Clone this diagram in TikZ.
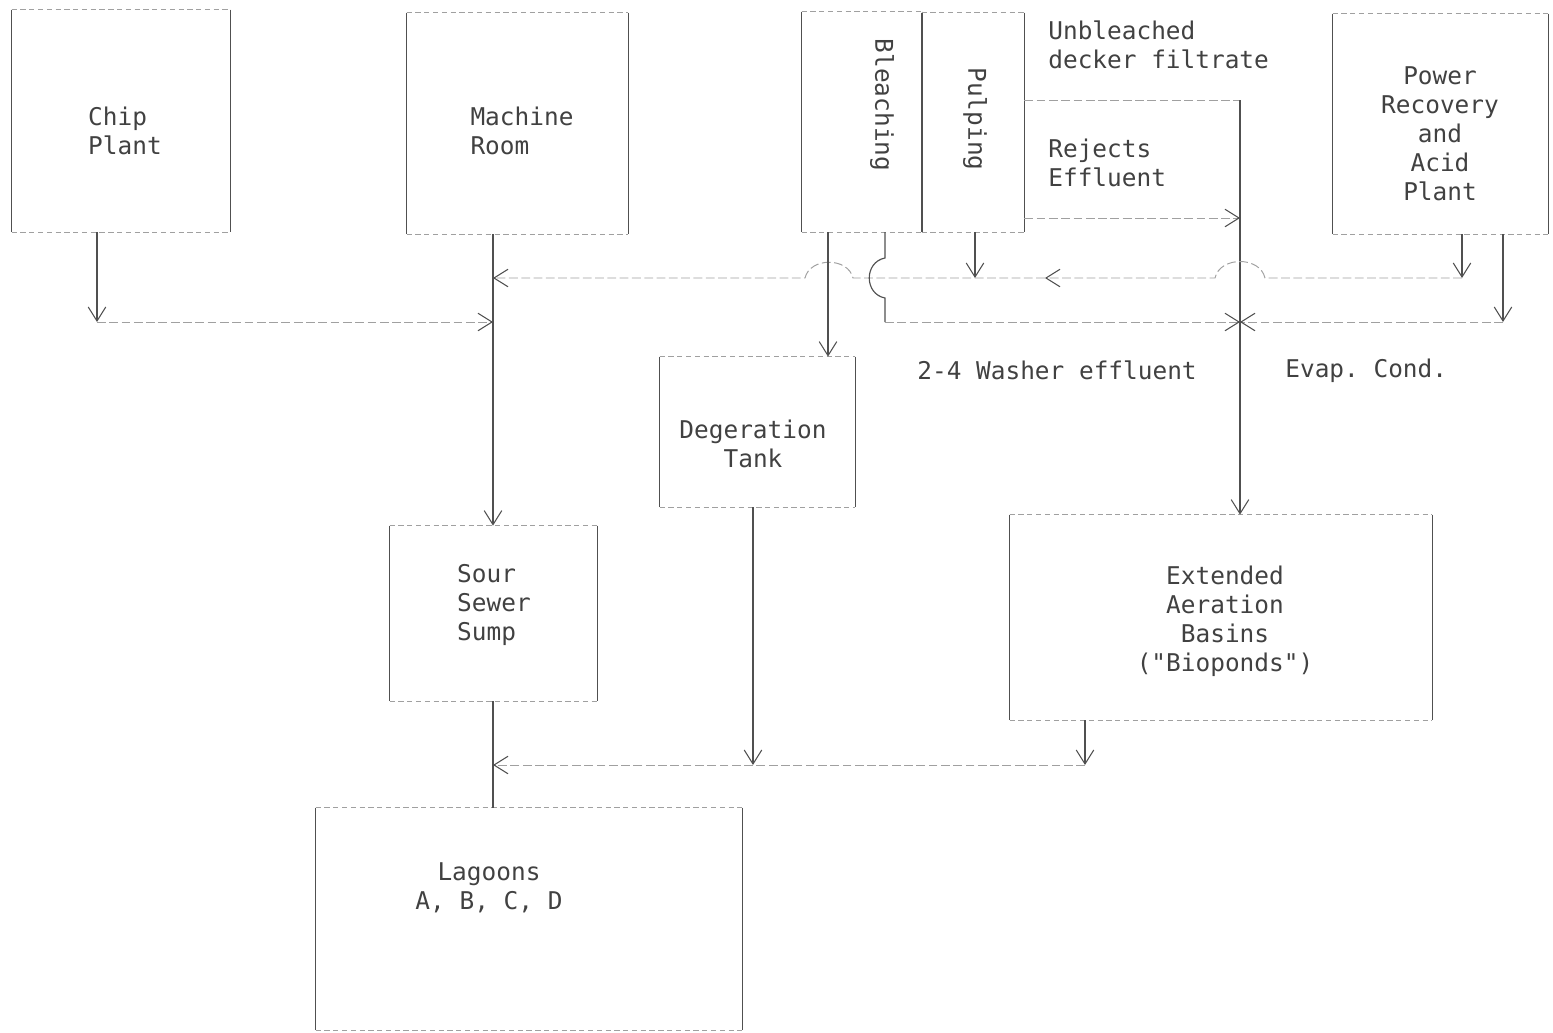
\documentclass[tikz,border=0pt]{standalone}
\usepackage{fontspec}
\setmonofont{DejaVu Sans Mono}
\usetikzlibrary{arrows.meta, positioning, fit}
\definecolor{inkgray}{RGB}{80,80,80}
\definecolor{rimgray}{RGB}{160,160,160}
\definecolor{textgray}{RGB}{65,65,65}

\begin{document}
\begin{tikzpicture}[
    x=0.02cm, y=-0.02cm,
    unit/.style={inner sep=0pt},
    txt/.style={font=\ttfamily\fontsize{13.9}{16.5}\selectfont, text=textgray, inner sep=0pt},
    side/.style={draw=inkgray, line width=0.7pt},
    rim/.style={draw=rimgray, line width=0.5pt, dash pattern=on 3pt off 2pt},
    pipe/.style={draw=inkgray, line width=0.65pt},
    duct/.style={draw=rimgray, line width=0.55pt, dash pattern=on 5pt off 2pt},
    tip/.style={-{Straight Barb[length=8pt, width=10pt, line width=0.6pt, color=inkgray]}}
]
\useasboundingbox (0,0) rectangle (1553,1032);

% Process units
\node[unit, fit={(12,10) (230,232)}] (chip) {};
\node[unit, fit={(407,13) (628,234)}] (machine) {};
\node[unit, fit={(802,12) (922,232)}] (bleach) {};
\node[unit, fit={(922,13) (1024,232)}] (pulp) {};
\node[unit, fit={(1333,14) (1548,234)}] (power) {};
\node[unit, fit={(660,357) (855,507)}] (degas) {};
\node[unit, fit={(390,526) (597,701)}] (sump) {};
\node[unit, fit={(1010,515) (1432,720)}] (bio) {};
\node[unit, fit={(316,808) (742,1030)}] (lagoon) {};

\foreach \b in {chip,machine,bleach,pulp,power,degas,sump,bio,lagoon}{
  \draw[rim] (\b.north west) -- (\b.north east) (\b.south west) -- (\b.south east);
  \draw[side] (\b.north west) -- (\b.south west) (\b.north east) -- (\b.south east);
}

% Unit names
\node[txt, align=left] (chipname) at (125,131) {Chip\\Plant};
\node[txt, align=left] (machinename) at (522,131) {Machine\\Room};
\node[txt, rotate=-90] (bleachname) at (882,105) {Bleaching};
\node[txt, rotate=-90] (pulpname) at (975,119) {Pulping};
\node[txt, align=center] (powername) at (1440,134) {Power\\Recovery\\and\\Acid\\Plant};
\node[txt, align=center] (degasname) at (753,444) {Degeration\\Tank};
\node[txt, align=left] (sumpname) at (494,605) {Sour\\Sewer\\Sump};
\node[txt, align=center] (bioname) at (1225,621) {Extended\\Aeration\\Basins\\("Bioponds")};
\node[txt, align=center] (lagoonname) at (489,888) {Lagoons\\A, B, C, D};

% Stream names
\node[txt, align=left, anchor=west] (filtrate) at (1048,45) {Unbleached\\decker filtrate};
\node[txt, align=left, anchor=west] (rejects) at (1048,163) {Rejects\\Effluent};
\node[txt, anchor=west] (washer) at (917,370) {2-4 Washer effluent};
\node[txt, anchor=west] (evap) at (1285,371) {Evap. Cond.};

% Junctions
\coordinate (trunk) at (1240,100);
\coordinate (rej) at (1240,218);
\coordinate (merge) at (1240,322);
\coordinate (feed) at (1462,278);
\coordinate (evapturn) at (1503,322);
\coordinate (mid) at (1045,278);
\coordinate (pulpin) at (975,278);
\coordinate (washout) at (885,232);
\coordinate (wash) at (885,322);
\coordinate (bleachout) at (828,232);
\coordinate (mrin) at (493,278);
\coordinate (chipin) at (493,322);
\coordinate (chipturn) at (97,322);
\coordinate (degin) at (753,765);
\coordinate (bioout) at (1085,765);
\coordinate (sumpin) at (493,765);

% Pulping streams to the bioponds
\draw[duct] (pulp.east |- trunk) -- (trunk);
\draw[pipe, tip] (trunk) -- (trunk |- bio.north);
\draw[duct, tip] (pulp.east |- rej) -- (rej);

% Return line to the machine room sewer
\draw[pipe, tip] (power.south -| feed) -- (feed);
\draw[duct, tip] (feed) -- (1265,278) .. controls (1260,256) and (1220,256) .. (1215,278) -- (mid);
\draw[duct, tip] (mid) -- (853,278) .. controls (848,257) and (810,257) .. (805,278) -- (mrin);
\draw[pipe, tip] (pulp.south -| pulpin) -- (pulpin);

% Chip plant
\draw[pipe, tip] (chip.south -| chipturn) -- (chipturn);
\draw[duct, tip] (chipturn) -- (chipin);

% Machine room to sump
\draw[pipe, tip] (machine.south -| mrin) -- (mrin |- sump.north);

% Bleaching
\draw[pipe, tip] (bleachout) -- (bleachout |- degas.north);
\draw[pipe] (washout) -- (885,258) .. controls (864,262) and (864,294) .. (885,298) -- (wash);
\draw[duct, tip] (wash) -- (merge);

% Evaporator condensate
\draw[pipe, tip] (power.south -| evapturn) -- (evapturn);
\draw[duct, tip] (evapturn) -- (merge);

% To the lagoons
\draw[pipe, tip] (degas.south -| degin) -- (degin);
\draw[pipe, tip] (bio.south -| bioout) -- (bioout);
\draw[duct, tip] (bioout) -- (sumpin);
\draw[pipe] (sump.south -| sumpin) -- (sumpin |- lagoon.north);

\end{tikzpicture}
\end{document}
